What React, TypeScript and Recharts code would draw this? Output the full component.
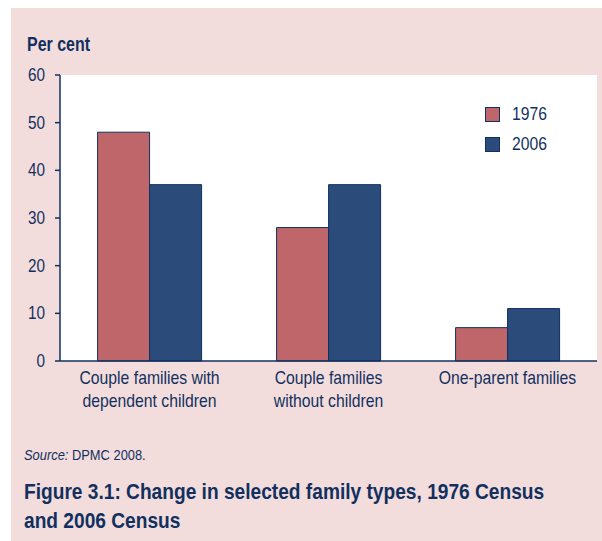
import React from "react";
import { BarChart, Bar, XAxis, YAxis, CartesianGrid } from "recharts";

const categories = [
  "Couple families with|dependent children",
  "Couple families|without children",
  "One-parent families",
];
const values1976 = [48, 28, 7];
const values2006 = [37, 37, 11];
const yTicks = [0, 10, 20, 30, 40, 50, 60];
const seriesNames = ["1976", "2006"];

const data = categories.map((c, i) => ({
  name: c,
  v1976: values1976[i],
  v2006: values2006[i],
}));

const NAVY = "#12305f";
const RED = "#be6669";
const BLUE = "#2b4b7b";
const PINK = "#f2dddc";
const FONT = "'Liberation Sans', Arial, sans-serif";

const XTick = (props: any) => {
  const { x, y, payload } = props;
  const lines = String(payload.value).split("|");
  return (
    <g transform={`translate(${x},${y}) scale(0.83,1)`}>
      <text x={0} y={0} textAnchor="middle" fill={NAVY} fontSize={19} fontFamily={FONT}>
        {lines.map((l, i) => (
          <tspan key={i} x={0} dy={i === 0 ? 15 : 23}>
            {l}
          </tspan>
        ))}
      </text>
    </g>
  );
};

const YTick = (props: any) => {
  const { x, y, payload } = props;
  return (
    <g transform={`translate(${x},${y}) scale(0.85,1)`}>
      <text x={0} y={0} dy={6} textAnchor="end" fill={NAVY} fontSize={18} fontFamily={FONT}>
        {payload.value}
      </text>
    </g>
  );
};

const narrow = (s: number): React.CSSProperties => ({
  display: "inline-block",
  transform: `scaleX(${s})`,
  transformOrigin: "left center",
  whiteSpace: "nowrap",
});

export default function App() {
  return (
    <div style={{ position: "absolute", left: 0, top: 0, width: 602, height: 541, background: "#fff", overflow: "hidden" }}>
      <div style={{ position: "absolute", left: 11, top: 8, right: 0, bottom: 0, background: PINK }} />
      <div
        style={{
          position: "absolute",
          left: 27,
          top: 32,
          fontFamily: FONT,
          fontWeight: "bold",
          fontSize: 21,
          color: NAVY,
        }}
      >
        <span style={narrow(0.76)}>Per cent</span>
      </div>
      <div style={{ position: "absolute", left: 0, top: 0 }}>
        <BarChart
          width={602}
          height={541}
          data={data}
          margin={{ top: 75, right: 5, bottom: 130, left: 0 }}
          barCategoryGap="21%"
          barGap={0}
        >
          <CartesianGrid horizontal={false} vertical={false} fill="#ffffff" />
          <YAxis
            width={60}
            domain={[0, 60]}
            ticks={yTicks}
            interval={0}
            axisLine={{ stroke: NAVY, strokeWidth: 1.5 }}
            tickLine={{ stroke: NAVY, strokeWidth: 1.5 }}
            tickSize={5}
            tickMargin={10}
            tick={<YTick />}
          />
          <XAxis
            dataKey="name"
            height={50}
            axisLine={{ stroke: NAVY, strokeWidth: 1.5 }}
            tickLine={false}
            tick={<XTick />}
            interval={0}
          />
          <Bar dataKey="v1976" name="1976" fill={RED} stroke={NAVY} strokeWidth={1} isAnimationActive={false} />
          <Bar dataKey="v2006" name="2006" fill={BLUE} stroke={NAVY} strokeWidth={1} isAnimationActive={false} />
        </BarChart>
      </div>
      <div style={{ position: "absolute", left: 485, top: 99, fontFamily: FONT, fontSize: 18, color: NAVY }}>
        {seriesNames.map((n, i) => (
          <div key={n} style={{ display: "flex", alignItems: "center", height: 30 }}>
            <div
              style={{
                width: 13,
                height: 13,
                background: i === 0 ? RED : BLUE,
                border: `1px solid ${NAVY}`,
                marginRight: 12,
              }}
            />
            <span style={narrow(0.87)}>{n}</span>
          </div>
        ))}
      </div>
      <div
        style={{
          position: "absolute",
          left: 24,
          top: 447,
          fontFamily: FONT,
          fontSize: 14,
          color: NAVY,
        }}
      >
        <span style={narrow(0.92)}>
          <i>Source:</i> DPMC 2008.
        </span>
      </div>
      <div
        style={{
          position: "absolute",
          left: 24,
          top: 477,
          fontFamily: FONT,
          fontWeight: "bold",
          fontSize: 22,
          lineHeight: "29px",
          color: NAVY,
        }}
      >
        <div style={narrow(0.87)}>Figure 3.1: Change in selected family types, 1976 Census</div>
        <div style={narrow(0.87)}>and 2006 Census</div>
      </div>
    </div>
  );
}
